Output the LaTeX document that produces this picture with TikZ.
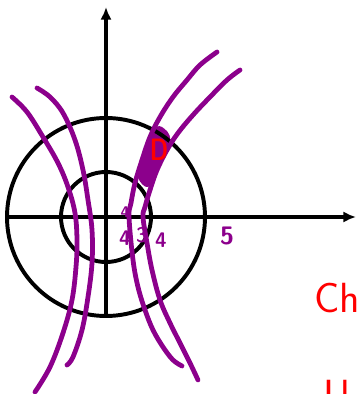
\documentclass[tikz,border=0pt]{standalone}
\usepackage{amsmath,amssymb}
\usepackage{tikz}
\usetikzlibrary{calc,arrows.meta}

\definecolor{pen}{RGB}{140,0,140}
\definecolor{ink}{RGB}{255,0,0}

\begin{document}
\begin{tikzpicture}[x=0.5cm,y=0.5cm,
  axis/.style={line width=2.2pt,-{Latex[length=9pt,width=8pt]}},
  ring/.style={line width=2.8pt},
  hyp/.style={pen,line width=3.4pt,line cap=round,line join=round},
  tick/.style={pen,font=\sffamily\bfseries\fontsize{15}{15}\selectfont,inner sep=0pt},
  note/.style={ink,font=\sffamily\fontsize{30}{30}\selectfont,inner sep=0pt}]
\pgfmathsetmacro{\Rbig}{4.95} % outer circle radius
\pgfmathsetmacro{\Rsmall}{2.25} % inner circle radius

% fix the frame
\useasboundingbox (-5.3,-8.85) rectangle (12.55,10.85);
\clip (-5.3,-8.85) rectangle (12.55,10.85);

% origin and axis ends
\coordinate (o) at (0,0);
\coordinate (xl) at (-4.95,0);
\coordinate (xr) at (12.5,0);
\coordinate (yb) at (0,-5);
\coordinate (yt) at (0,10.5);

% shaded piece between the two right curves
\fill[pen] plot[smooth cycle,tension=0.6] coordinates {(2.35,4.45) (2.8,4.5) (3.2,3.85)
  (2.55,2.35) (2.1,1.5) (1.6,2.0) (1.8,3.0) (2.2,4.2)};

% circles
\draw[ring] (o) circle (\Rbig);
\draw[ring] (o) circle (\Rsmall);

% axes
\draw[axis] (xl) -- (xr);
\draw[axis] (yb) -- (yt);

% the four curves, left to right
\draw[hyp] plot[smooth,tension=0.6] coordinates {(-4.7,6.0) (-3.95,5.25) (-3.15,4.0)
  (-2.4,2.7) (-1.9,1.5) (-1.55,0.2) (-1.45,-1.15) (-1.5,-2.5) (-1.7,-4.15)
  (-2.15,-5.8) (-2.8,-7.5) (-3.55,-8.75)};
\draw[hyp] plot[smooth,tension=0.6] coordinates {(-3.45,6.45) (-2.8,6.0) (-2.15,5.2)
  (-1.55,3.85) (-1.15,2.35) (-0.9,0.85) (-0.7,-0.65) (-0.7,-2.3) (-0.9,-4.0)
  (-1.2,-5.65) (-1.65,-7.0) (-1.95,-7.4)};
\draw[hyp] plot[smooth,tension=0.6] coordinates {(5.55,8.25) (4.7,7.6) (4.05,6.85)
  (3.35,6.0) (2.7,5.0) (2.2,4.0) (1.8,2.85) (1.45,1.7) (1.25,0.7) (1.15,0)
  (1.35,-2.15) (1.6,-3.5) (1.95,-4.65) (2.35,-5.65) (2.85,-6.5) (3.35,-7.15) (3.8,-7.45)};
\draw[hyp] plot[smooth,tension=0.6] coordinates {(6.7,7.35) (6.05,6.85) (5.2,6.0)
  (4.35,5.1) (3.6,4.2) (3.05,3.35) (2.55,2.35) (2.2,1.35) (1.95,0.5) (1.85,0)
  (2.05,-1.3) (2.3,-2.65) (2.7,-4.15) (3.2,-5.3) (3.7,-6.3) (4.2,-7.3) (4.6,-8.15)};

% marks on the x axis
\node[tick,font=\sffamily\bfseries\fontsize{11}{11}\selectfont] (t1) at (0.95,0.25) {4};
\node[tick] (t2) at (0.95,-1.05) {4};
\node[tick] (t3) at (1.8,-0.9) {3};
\node[tick] (t4) at (2.75,-1.15) {4};
\node[tick,font=\sffamily\bfseries\fontsize{18}{18}\selectfont] (t5) at (6.05,-0.95) {5};

% region name
\node[ink,font=\sffamily\bfseries\fontsize{22}{22}\selectfont,inner sep=0pt,xscale=0.75] (reg) at (2.65,3.35) {D};

% side notes, running off the page
\node[note,anchor=west] (ch) at (10.4,-4.05) {Ch};
\node[note,anchor=north] (u) at (11.55,-8.15) {U};
\end{tikzpicture}
\end{document}
